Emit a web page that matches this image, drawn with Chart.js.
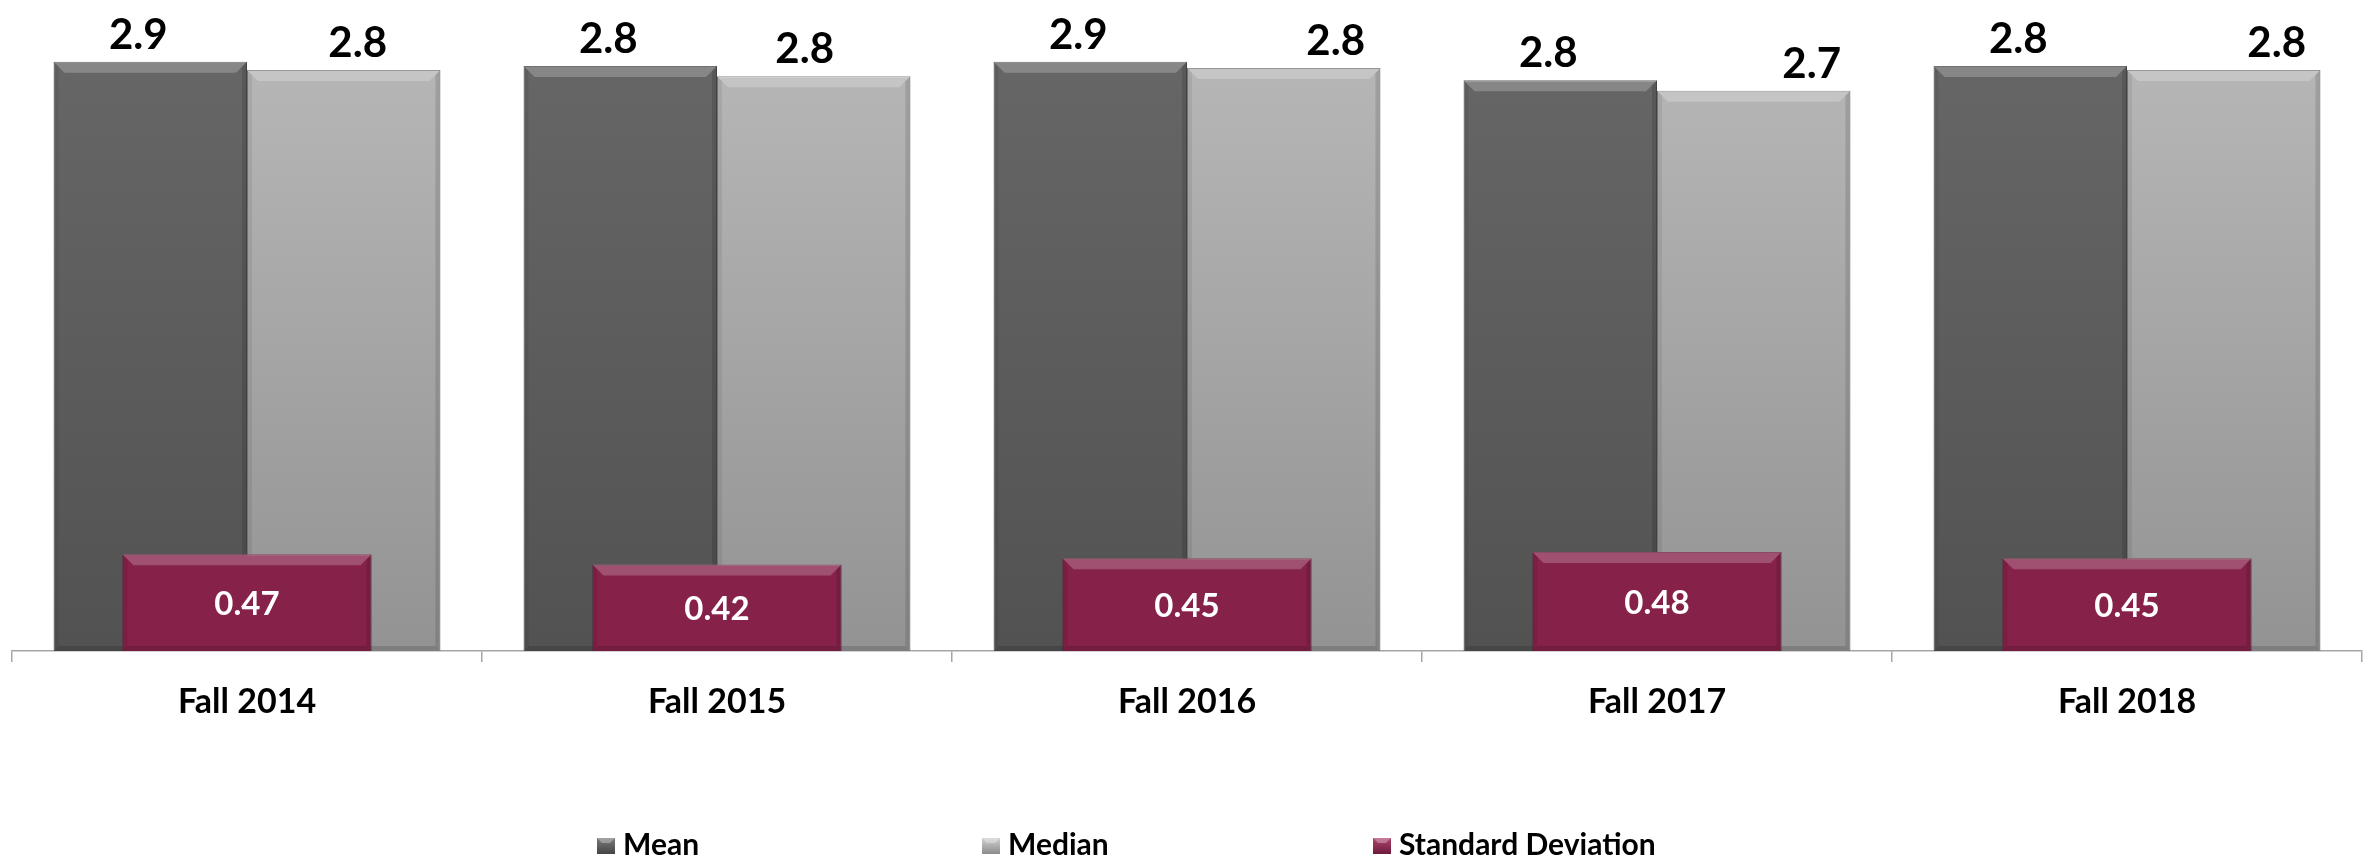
<!DOCTYPE html>
<html>
<head>
<meta charset="utf-8">
<script src="https://cdn.jsdelivr.net/npm/chart.js@4.4.1/dist/chart.umd.min.js"></script>
<style>
  html, body { margin: 0; padding: 0; background: #fff; }
  #wrap { width: 2377px; height: 859px; }
</style>
</head>
<body>
<div id="wrap"><canvas id="statsChart" width="2377" height="859"></canvas></div>
<script>
// Values (labels show them rounded)
const terms = ["Fall 2014", "Fall 2015", "Fall 2016", "Fall 2017", "Fall 2018"];
const meanScores = [2.86, 2.84, 2.86, 2.77, 2.84];
const medianScores = [2.82, 2.79, 2.83, 2.72, 2.82];
const stdDevs = [0.47, 0.42, 0.45, 0.48, 0.45];
const seriesNames = ["Mean", "Median", "Standard Deviation"];

const FONT = "Lato, 'Open Sans', sans-serif";

// vertical gradient over the plot area
function vGrad(chart, top, bottom) {
  const area = chart.chartArea;
  if (!area) return top;
  const g = chart.ctx.createLinearGradient(0, area.top, 0, area.bottom);
  g.addColorStop(0, top);
  g.addColorStop(1, bottom);
  return g;
}

// bevel look on each bar, drawn right after its own dataset
const barBevel = {
  id: "barBevel",
  afterDatasetDraw(chart, args) {
    const ctx = chart.ctx;
    args.meta.data.forEach(bar => {
      const p = bar.getProps(["x", "y", "base", "width"], true);
      const l = p.x - p.width / 2, r = p.x + p.width / 2, t = p.y, b = p.base;
      const bv = 11, sd = 5;
      ctx.save();
      ctx.beginPath();
      ctx.moveTo(l, t); ctx.lineTo(r, t); ctx.lineTo(r - bv, t + bv); ctx.lineTo(l + bv, t + bv);
      ctx.closePath();
      ctx.fillStyle = "rgba(255,255,255,0.22)";
      ctx.fill();
      ctx.beginPath();
      ctx.moveTo(l, t); ctx.lineTo(l + sd, t + sd); ctx.lineTo(l + sd, b - sd); ctx.lineTo(l, b);
      ctx.closePath();
      ctx.fillStyle = "rgba(0,0,0,0.07)";
      ctx.fill();
      ctx.beginPath();
      ctx.moveTo(r, t); ctx.lineTo(r - sd, t + sd); ctx.lineTo(r - sd, b - sd); ctx.lineTo(r, b);
      ctx.closePath();
      ctx.fillStyle = "rgba(0,0,0,0.12)";
      ctx.fill();
      ctx.beginPath();
      ctx.moveTo(l, b); ctx.lineTo(l + sd, b - sd); ctx.lineTo(r - sd, b - sd); ctx.lineTo(r, b);
      ctx.closePath();
      ctx.fillStyle = "rgba(0,0,0,0.14)";
      ctx.fill();
      ctx.restore();
    });
  }
};

// value labels: above the grey bars, inside the SD bars
const valueLabels = {
  id: "valueLabels",
  afterDatasetsDraw(chart, args, opts) {
    const ctx = chart.ctx;
    chart.data.datasets.forEach((ds, di) => {
      const meta = chart.getDatasetMeta(di);
      meta.data.forEach((bar, i) => {
        const v = ds.data[i];
        ctx.save();
        ctx.textAlign = "center";
        if (ds.labelInside) {
          ctx.font = "bold 33px " + FONT;
          ctx.fillStyle = "#ffffff";
          ctx.textBaseline = "middle";
          ctx.fillText(v.toFixed(2), bar.x, (bar.y + bar.base) / 2 + 2);
        } else {
          const nudge = (opts.nudge[di] || [])[i] || 0;
          ctx.font = "bold 42px " + FONT;
          ctx.fillStyle = "#000000";
          ctx.textBaseline = "alphabetic";
          ctx.fillText(v.toFixed(1), bar.x + nudge, bar.y - 13);
        }
        ctx.restore();
      });
    });
  }
};

// legend row along the bottom
const legendRow = {
  id: "legendRow",
  afterDraw(chart, args, opts) {
    const ctx = chart.ctx;
    chart.data.datasets.forEach((ds, di) => {
      const x = opts.starts[di], y = opts.y;
      ctx.save();
      const g = ctx.createLinearGradient(0, y - 15, 0, y);
      g.addColorStop(0, ds.legendTop);
      g.addColorStop(1, ds.legendBottom);
      ctx.fillStyle = g;
      ctx.fillRect(x, y - 16, 18, 16);
      ctx.fillStyle = "rgba(255,255,255,0.3)";
      ctx.beginPath();
      ctx.moveTo(x, y - 16); ctx.lineTo(x + 18, y - 16); ctx.lineTo(x + 13, y - 11); ctx.lineTo(x + 5, y - 11);
      ctx.closePath();
      ctx.fill();
      ctx.font = "bold 30px " + FONT;
      ctx.fillStyle = "#000000";
      ctx.textBaseline = "alphabetic";
      ctx.textAlign = "left";
      ctx.fillText(ds.label, x + 26, y + 1);
      ctx.restore();
    });
  }
};

const ctx = document.getElementById("statsChart").getContext("2d");
new Chart(ctx, {
  type: "bar",
  data: {
    labels: terms,
    datasets: [
      {
        label: seriesNames[0],
        data: meanScores,
        backgroundColor: c => vGrad(c.chart, "#686868", "#525252"),
        borderColor: "#4a4a4a",
        borderWidth: 1,
        categoryPercentage: 0.823,
        barPercentage: 1,
        order: 2,
        legendTop: "#777777", legendBottom: "#444444"
      },
      {
        label: seriesNames[1],
        data: medianScores,
        backgroundColor: c => vGrad(c.chart, "#bababa", "#939393"),
        borderColor: "#7a7a7a",
        borderWidth: 1,
        categoryPercentage: 0.823,
        barPercentage: 1,
        order: 2,
        legendTop: "#cccccc", legendBottom: "#8c8c8c"
      },
      {
        label: seriesNames[2],
        data: stdDevs,
        backgroundColor: "#86214a",
        borderColor: "#6a1839",
        borderWidth: 1,
        grouped: false,
        categoryPercentage: 1,
        barPercentage: 0.53,
        order: 1,
        labelInside: true,
        legendTop: "#a8406a", legendBottom: "#6e1a3c"
      }
    ]
  },
  options: {
    responsive: false,
    devicePixelRatio: 1,
    animation: false,
    layout: { padding: { left: 12, right: 15, top: 0, bottom: 0 } },
    plugins: {
      legend: { display: false },
      tooltip: { enabled: false },
      valueLabels: { nudge: { 0: [-12, -12, -12, -12, -12], 1: [14, -9, 52, 58, 53] } },
      legendRow: { starts: [597, 982, 1373], y: 854 }
    },
    scales: {
      x: {
        grid: { drawOnChartArea: false, drawTicks: true, tickLength: 11, color: "#a6a6a6", lineWidth: 1.5, offset: true },
        border: { display: true, color: "#a6a6a6", width: 1.5 },
        ticks: { color: "#000000", font: { family: FONT, size: 34, weight: "bold" }, padding: 20 },
        afterFit: s => { s.height = 208; }
      },
      y: { display: false, min: 0, max: 3.16 }
    }
  },
  plugins: [barBevel, valueLabels, legendRow]
});
</script>
</body>
</html>
